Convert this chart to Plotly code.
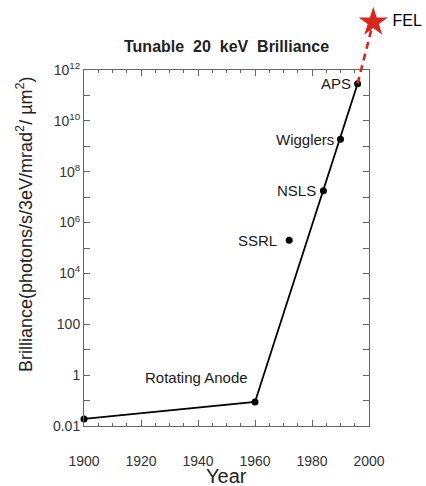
import math
import plotly.graph_objects as go

# ---- data ----
source_names = ["Rotating Anode", "SSRL", "NSLS", "Wigglers", "APS"]
source_years = [1960, 1972, 1984, 1990, 1996]
source_values = [0.088, 2.0e5, 1.8e7, 1.9e9, 2.9e11]

start_year = [1900]
start_value = [0.019]

trend_years = [1900, 1960, 1996]
trend_values = [0.019, 0.088, 2.9e11]

fel_years = [1996, 2001.5]
fel_values = [2.9e11, 7.6e13]
fel_name = "FEL"

x_range = [1900, 2000]
y_range_dec = [-2, 12]
x_major = [1900, 1920, 1940, 1960, 1980, 2000]
y_tick_exp = list(range(-2, 13))
y_label = {-2: "0.01", 0: "1", 2: "100", 4: "10<sup>4</sup>", 6: "10<sup>6</sup>",
           8: "10<sup>8</sup>", 10: "10<sup>10</sup>", 12: "10<sup>12</sup>"}

W, H = 426, 486
xdom = [84 / W, 369 / W]
ydom = [60 / H, 416 / H]

FONT = "Liberation Sans, Arial, sans-serif"

fig = go.Figure()

# main line
fig.add_trace(go.Scatter(x=trend_years, y=trend_values, mode="lines",
                         line=dict(color="black", width=1.8), xaxis="x", yaxis="y",
                         hoverinfo="skip", showlegend=False))
# points
fig.add_trace(go.Scatter(x=start_year + source_years, y=start_value + source_values,
                         mode="markers", marker=dict(color="black", size=7),
                         cliponaxis=False, xaxis="x", yaxis="y", showlegend=False))

# overlay axes covering whole figure for the FEL extension
span_x = (x_range[1] - x_range[0]) / (xdom[1] - xdom[0])
x2_range = [x_range[0] - xdom[0] * span_x, x_range[0] + (1 - xdom[0]) * span_x]
span_y = (y_range_dec[1] - y_range_dec[0]) / (ydom[1] - ydom[0])
y2_range = [y_range_dec[0] - ydom[0] * span_y, y_range_dec[0] + (1 - ydom[0]) * span_y]

fig.add_trace(go.Scatter(x=fel_years, y=fel_values, mode="lines",
                         line=dict(color="#d8261c", width=2.6, dash="7px,5px"),
                         xaxis="x2", yaxis="y2", showlegend=False, hoverinfo="skip"))
fig.add_trace(go.Scatter(x=fel_years[-1:], y=fel_values[-1:], mode="markers+text",
                         marker=dict(symbol="star", color="#d8261c", size=22,
                                     line=dict(width=0)),
                         text=[" " + fel_name], textposition="middle right",
                         textfont=dict(family=FONT, size=16, color="black"),
                         cliponaxis=False, xaxis="x2", yaxis="y2", showlegend=False))

# labels
for name, yr, val in zip(source_names, source_years, source_values):
    fig.add_annotation(x=yr, y=math.log10(val), xref="x", yref="y",
                       text=name, showarrow=False, xanchor="right", yanchor="middle",
                       xshift=-5 if name != "SSRL" else -10,
                       yshift=24 if name == "Rotating Anode" else 0,
                       font=dict(family=FONT, size=15, color="#1a1a1a"))

axis_common = dict(showline=True, linecolor="#666", linewidth=1, mirror="ticks",
                   ticks="inside", tickcolor="#666", showgrid=False, zeroline=False,
                   automargin=False)

fig.update_layout(
    width=W, height=H,
    margin=dict(l=0, r=0, t=0, b=0, autoexpand=False),
    paper_bgcolor="white", plot_bgcolor="rgba(0,0,0,0)",
    xaxis=dict(domain=xdom, range=x_range, tickvals=x_major, ticklen=6, tickwidth=1,
               tickfont=dict(family=FONT, size=14, color="#333"), anchor="y",
               ticklabelstandoff=22,
               minor=dict(dtick=5, ticklen=3, ticks="inside", tickcolor="#666"),
               **axis_common),
    yaxis=dict(domain=ydom, type="log", range=y_range_dec,
               tickvals=[10 ** e for e in y_tick_exp],
               ticktext=[y_label.get(e, "") for e in y_tick_exp],
               ticklen=6, tickwidth=1, anchor="x",
               tickfont=dict(family=FONT, size=14, color="#333"), **axis_common),
    xaxis2=dict(domain=[0, 1], range=x2_range, visible=False, anchor="y2", automargin=False),
    yaxis2=dict(domain=[0, 1], type="log", range=y2_range, visible=False, anchor="x2",
                automargin=False),
    showlegend=False,
)

# title and axis titles
fig.add_annotation(x=226 / W, y=1 - 46 / H, xref="paper", yref="paper",
                   text="<b>Tunable\u00a0\u00a020\u00a0\u00a0keV\u00a0\u00a0Brilliance</b>",
                   showarrow=False, xanchor="center", yanchor="middle",
                   font=dict(family=FONT, size=16, color="#222"))
fig.add_annotation(x=226 / W, y=1 - 476 / H, xref="paper", yref="paper", text="Year",
                   showarrow=False, xanchor="center", yanchor="middle",
                   font=dict(family=FONT, size=20, color="#222"))
fig.add_annotation(x=24 / W, y=1 - 224 / H, xref="paper", yref="paper",
                   text="Brilliance(photons/s/3eV/mrad<sup>2</sup>/ µm<sup>2</sup>)",
                   textangle=-90, showarrow=False, xanchor="center", yanchor="middle",
                   font=dict(family=FONT, size=18, color="#222"))

fig.write_html("out.html", config={"displayModeBar": False},
               post_script="document.body.style.margin='0';document.body.style.padding='0';")
